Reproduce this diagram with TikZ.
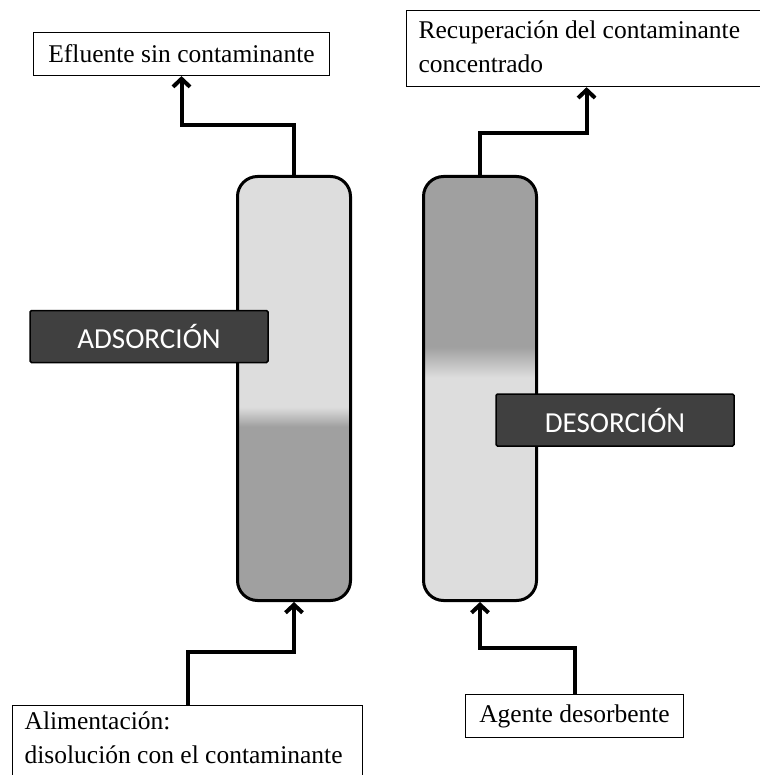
\documentclass[tikz,border=0pt]{standalone}
\usepackage{fontspec}
\setmainfont{Liberation Serif}
\newfontfamily\stagefont{Carlito}
\usepackage{xcolor}
\definecolor{ColumnLight}{HTML}{DDDDDD}
\definecolor{ColumnDark}{HTML}{A0A0A0}
\definecolor{StageGrey}{HTML}{404040}
\usetikzlibrary{arrows.meta, positioning}
% bed profiles (bottom -> top, the path fills 25bp..75bp)
\pgfdeclareverticalshading{adsorbbed}{100bp}{color(0bp)=(ColumnDark); color(45.5bp)=(ColumnDark); color(47.8bp)=(ColumnLight); color(100bp)=(ColumnLight)}
\pgfdeclareverticalshading{desorbbed}{100bp}{color(0bp)=(ColumnLight); color(51.3bp)=(ColumnLight); color(54.9bp)=(ColumnDark); color(100bp)=(ColumnDark)}
\tikzstyle{column} = [rectangle, draw=black, line width=3pt, rounded corners=20pt, minimum width=113pt, minimum height=424pt, inner sep=0pt]
\tikzstyle{stage} = [rectangle, draw=black, fill=StageGrey, text=white, line width=1.5pt, rounded corners=1.5pt, minimum width=238pt, minimum height=52pt, font=\stagefont\fontsize{29}{34}\selectfont]
\tikzstyle{stream} = [rectangle, draw=black, fill=white, line width=1.2pt, text=black, font=\fontsize{25.5}{34}\selectfont]
\tikzstyle{flow} = [line width=4pt, -{Straight Barb[length=8pt, width=17pt]}]

\begin{document}
\begin{tikzpicture}[x=1pt, y=-1pt]
        \useasboundingbox (0,0) rectangle (759,775);
        % Columns
        \node [column, shade, shading=adsorbbed] (ads) at (294,388.5) {};
        \node [column, shade, shading=desorbbed] (des) at (480,388.5) {};

        % Stage labels
        \node [stage] (adslbl) at (149,336.5) {ADSORCIÓN};
        \node [stage] (deslbl) at (615,420) {DESORCIÓN};

        % Streams
        \node [stream, minimum width=296pt, minimum height=43pt, inner sep=0pt] (efl) at (181.5,54) {Efluente sin contaminante};
        \node [stream, anchor=north west, inner xsep=12pt, inner ysep=10pt] (rec) at (406,10) {\parbox[t][56pt][t]{336pt}{Recuperación del contaminante\\concentrado}};
        \node [stream, anchor=north west, inner xsep=12pt, inner ysep=6pt] (alim) at (12,705) {\parbox[t][90pt][t]{326pt}{Alimentación:\\disolución con el contaminante}};
        \node [stream, minimum width=218pt, minimum height=43pt, inner sep=0pt] (agent) at (574.5,716) {Agente desorbente};

        % Flows
        \draw [flow] (ads.north) -- ++(0,-50) -| (efl.south);
        \draw [flow] (des.north) -- ++(0,-42) -| (rec.south);
        \draw [flow] (alim.north) -- ++(0,-53) -| (ads.south);
        \draw [flow] (agent.north) -- ++(0,-46) -| (des.south);
    \end{tikzpicture}
\end{document}
